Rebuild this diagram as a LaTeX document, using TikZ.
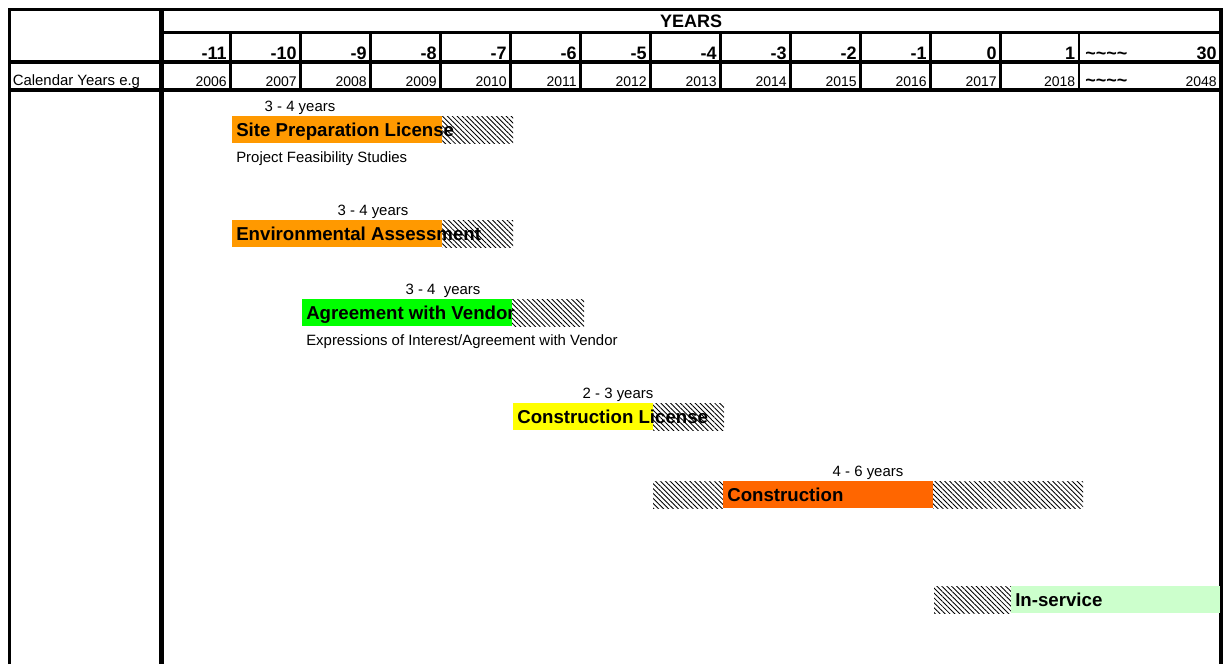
\documentclass[tikz,border=0pt]{standalone}
\usepackage{fontspec}
\setmainfont{Liberation Sans}
\usepackage{xcolor}
\usetikzlibrary{patterns.meta}
\definecolor{sitecol}{HTML}{FF9900}
\definecolor{vendorcol}{HTML}{00FF00}
\definecolor{licencecol}{HTML}{FFFF00}
\definecolor{buildcol}{HTML}{FF6600}
\definecolor{servicecol}{HTML}{CCFFCC}
\tikzset{
  tabline/.style={line width=#1},
  tabline/.default=2.3pt,
  hdtitle/.style={font=\fontsize{13.5}{16}\selectfont\bfseries, anchor=base, inner sep=0pt},
  hdnum/.style={font=\fontsize{13.5}{16}\selectfont\bfseries, anchor=base east, inner sep=0pt},
  hdyear/.style={font=\fontsize{10.5}{12}\selectfont, anchor=base east, inner sep=0pt},
  hatchbox/.style={pattern={Lines[angle=-45,distance=2.6pt,line width=0.65pt]}},
  phasetxt/.style={font=\fontsize{14}{16}\selectfont\bfseries, anchor=base west, inner sep=0pt},
  durtxt/.style={font=\fontsize{11.2}{13}\selectfont, anchor=base, inner sep=0pt},
  notetxt/.style={font=\fontsize{11.2}{13}\selectfont, anchor=base west, inner sep=0pt},
}

\begin{document}
\begin{tikzpicture}[x=0.75pt, y=-0.75pt]
  \useasboundingbox (0,0) rectangle (1223,664);
  % table frame and header rows
  \draw[tabline] (9.5,664) -- (9.5,9.5) -- (1221,9.5) -- (1221,664);
  \draw[tabline=1.8pt] (161.5,32.5) -- (1221,32.5);
  \draw[tabline] (9.5,62) -- (1221,62) (9.5,90) -- (1221,90);
  \draw[tabline=3.4pt] (161.5,9.5) -- (161.5,664);
  \node[hdtitle] (years) at (691,27.5) {YEARS};
  \node[notetxt] (cal) at (12.5,85.5) {Calendar Years e.g};
  \foreach \k/\yr [count=\i from 0] in {-11/2006,-10/2007,-9/2008,-8/2009,-7/2010,-6/2011,
                                         -5/2012,-4/2013,-3/2014,-2/2015,-1/2016,0/2017} {
    \draw[tabline=1.8pt] (230.5+70*\i,32.5) -- (230.5+70*\i,90);
    \node[hdnum] (k\i) at (227+70*\i,59.5) {\k};
    \node[hdyear] (yr\i) at (227+70*\i,86.5) {\yr};
  }
  \draw[tabline=1.8pt] (1079,32.5) -- (1079,90);
  \node[hdnum] (k12) at (1075.5,59.5) {1};
  \node[hdyear] (yr12) at (1075.5,86.5) {2018};
  \node[hdnum, anchor=base west] (gapk) at (1085,59.5) {\textasciitilde\textasciitilde\textasciitilde\textasciitilde};
  \node[hdnum, anchor=base west] (gapyr) at (1085,86.5) {\textasciitilde\textasciitilde\textasciitilde\textasciitilde};
  \node[hdnum] (k30) at (1217,59.5) {30};
  \node[hdyear] (yr30) at (1217,86.5) {2048};
  % phases: hatch, bar, hatch
  \foreach \nm/\col/\yt/\xa/\xb/\xc/\xd/\txt/\dx/\dur in {
      site/sitecol/116/232/232/442/513/Site Preparation License/300/3 - 4 years,
      env/sitecol/220/232/232/442/513/Environmental Assessment/373/3 - 4 years,
      vendor/vendorcol/299/302/302/512/584/Agreement with Vendor/443/3 - 4\ \ years,
      lic/licencecol/403/513/513/653/724/Construction License/618/2 - 3 years,
      build/buildcol/481/653/723/933/1083/Construction/868/4 - 6 years,
      serv/servicecol/586/934/1011/1220/1220/In-service/0/} {
    \path[hatchbox] (\xa,\yt) rectangle (\xb,\yt+27);
    \fill[\col] (\xb,\yt) rectangle (\xc,\yt+27);
    \path[hatchbox] (\xc,\yt) rectangle (\xd,\yt+27);
    \node[phasetxt] (\nm) at (\xb+4,\yt+20) {\txt};
    \node[durtxt] (\nm-dur) at (\dx,\yt-5) {\dur};
  }
  \node[notetxt] (feas) at (236,162.5) {Project Feasibility Studies};
  \node[notetxt] (eoi) at (306,345) {Expressions of Interest/Agreement with Vendor};
\end{tikzpicture}
\end{document}
